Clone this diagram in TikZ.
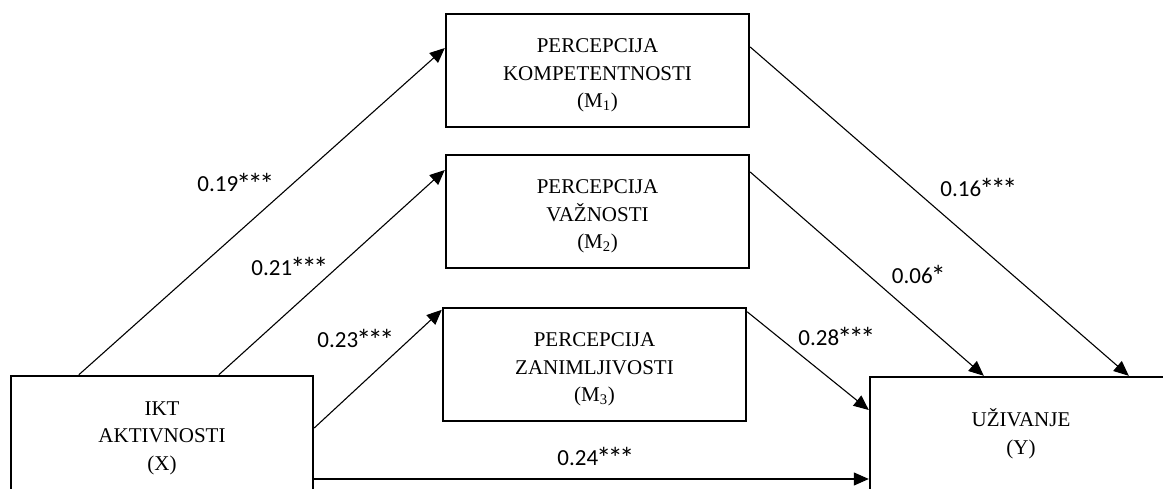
\documentclass[tikz,border=0pt]{standalone}
\usepackage{fontspec}
\setmainfont{Liberation Serif}
\newfontfamily\lblfont{Carlito}
\usetikzlibrary{arrows.meta}
\newcommand\toppad{\rule{0pt}{24pt}}
\newcommand\sg{\setbox0\hbox{*}\makebox[\wd0]{\raisebox{-3pt}{\scalebox{1.3}{*}}}}
\tikzset{
  box/.style={draw, line width=2.4pt, rectangle, inner sep=0pt, align=center,
              font=\fontsize{21}{27.5}\selectfont},
  conn/.style={line width=1.1pt, -{Triangle[length=15pt,width=13pt]}},
  lbl/.style={inner sep=0pt, font=\lblfont\fontsize{23}{26}\selectfont}
}
\begin{document}
\begin{tikzpicture}[x=1pt,y=-1pt]
\useasboundingbox (0,0) rectangle (1163,489);
\clip (0,0) rectangle (1163,489);
\fill[white] (0,0) rectangle (1163,489);
% boxes
\node[box, minimum width=303pt, minimum height=113pt] (m1) at (597.5,70.5)
  {\toppad PERCEPCIJA\\KOMPETENTNOSTI\\(M\textsubscript{1})};
\node[box, minimum width=303pt, minimum height=113pt] (m2) at (597.5,211.5)
  {\toppad PERCEPCIJA\\VAŽNOSTI\\(M\textsubscript{2})};
\node[box, minimum width=303pt, minimum height=113pt] (m3) at (594.5,364.5)
  {\toppad PERCEPCIJA\\ZANIMLJIVOSTI\\(M\textsubscript{3})};
\node[box, minimum width=302pt, minimum height=114pt] (x) at (162,433)
  {\toppad IKT\\AKTIVNOSTI\\(X)};
\node[box, minimum width=302pt, minimum height=113pt] (y) at (1021,433.5)
  {UŽIVANJE\\(Y)};
% connectors
\draw[conn] ([xshift=69pt]x.north west) -- ([yshift=22.5pt]m1.west);
\draw[conn] ([xshift=209pt]x.north west) -- ([yshift=41.5pt]m2.west);
\draw[conn] ([yshift=5pt]x.east) -- ([yshift=-3pt]m3.north west);
\coordinate (h) at ([yshift=-46pt]x.east);
\draw[conn] (h) -- (h -| y.west);
\draw[conn] ([yshift=23.5pt]m1.east) -- ([xshift=260pt]y.north west);
\draw[conn] ([yshift=39.5pt]m2.east) -- ([xshift=115pt]y.north west);
\draw[conn] ([yshift=-5pt]m3.north east) -- ([yshift=23.5pt]y.west);
% labels
\node[lbl] (l1) at (235,184) {0.19\sg\sg\sg};
\node[lbl] (l2) at (289,268) {0.21\sg\sg\sg};
\node[lbl] (l3) at (355,340) {0.23\sg\sg\sg};
\node[lbl] (l4) at (978,189) {0.16\sg\sg\sg};
\node[lbl] (l5) at (918,276) {0.06\sg};
\node[lbl] (l6) at (836,338) {0.28\sg\sg\sg};
\node[lbl] (l7) at (595,458) {0.24\sg\sg\sg};
\end{tikzpicture}
\end{document}
